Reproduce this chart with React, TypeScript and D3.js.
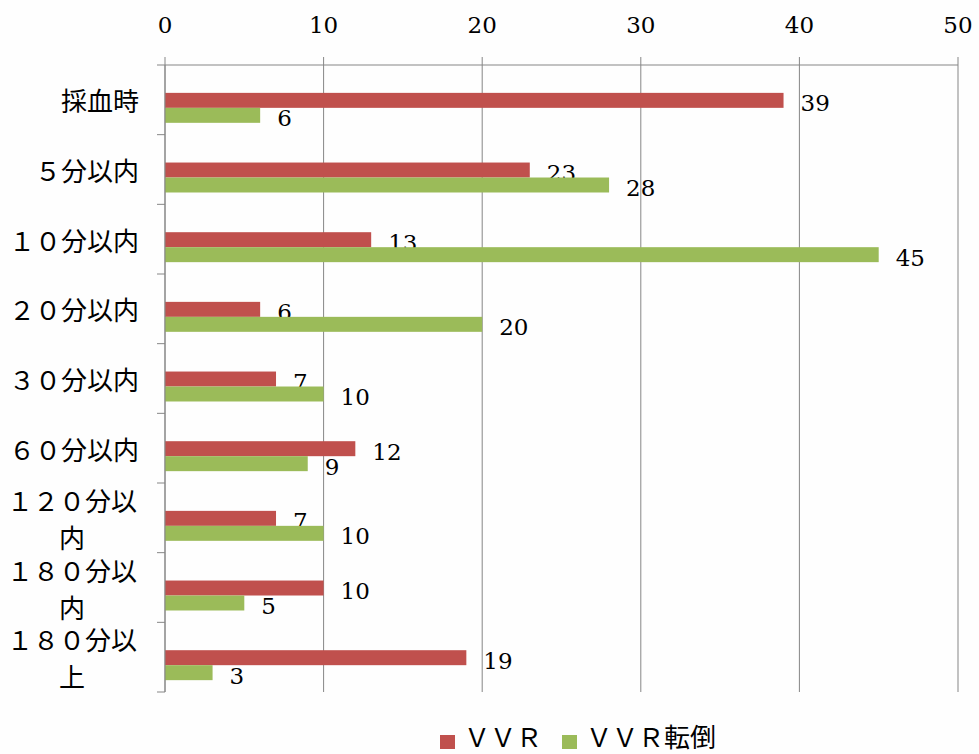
import React from "react";
import * as d3 from "d3";

const categories: string[][] = [
  ["採血時"],
  ["５分以内"],
  ["１０分以内"],
  ["２０分以内"],
  ["３０分以内"],
  ["６０分以内"],
  ["１２０分以", "内"],
  ["１８０分以", "内"],
  ["１８０分以", "上"],
];
const catKeys = categories.map((c) => c.join(""));
const seriesNames = ["ＶＶＲ", "ＶＶＲ転倒"];
const vvr = [39, 23, 13, 6, 7, 12, 7, 10, 19];
const vvrFall = [6, 28, 45, 20, 10, 9, 10, 5, 3];
const xTicks = [0, 10, 20, 30, 40, 50];
const colors = ["#C0504D", "#9BBB59"];

const W = 979;
const H = 754;
const left = 165;
const right = 958;
const top = 65;
const bottom = 692;
const catFont = "'Noto Sans CJK JP', sans-serif";
const numFont = "'DejaVu Serif', serif";
const numSize = 23;
const catSize = 26;

export default function App() {
  const x = d3.scaleLinear().domain([0, 50]).range([left, right]);
  const y = d3.scaleBand<string>().domain(catKeys).range([top, bottom]).padding(0);
  const bw = y.bandwidth();
  const barH = bw * 0.215;
  const offset = bw * 0.4;
  const series = [vvr, vvrFall];
  const gridColor = "#868686";

  return (
    <svg
      width={W}
      height={H}
      style={{ position: "absolute", left: 0, top: 0, background: "#fefefe" }}
    >
      <rect x={0} y={0} width={W} height={H} fill="#fefefe" />
      {xTicks.map((t) => (
        <g key={"t" + t}>
          <line x1={x(t)} x2={x(t)} y1={top - 8} y2={bottom} stroke={gridColor} strokeWidth={1} />
          <text
            x={x(t)}
            y={33}
            textAnchor="middle"
            fontFamily={numFont}
            fontSize={numSize}
            fill="#000"
          >
            {t}
          </text>
        </g>
      ))}
      <line x1={left - 8} x2={right} y1={top} y2={top} stroke={gridColor} strokeWidth={1} />
      {catKeys.map((k, i) => (
        <line
          key={"ct" + i}
          x1={left - 8}
          x2={left}
          y1={(y(k) as number) + bw}
          y2={(y(k) as number) + bw}
          stroke={gridColor}
          strokeWidth={1}
        />
      ))}
      {series.map((vals, s) =>
        vals.map((v, i) => {
          const by = (y(catKeys[i]) as number) + offset + s * barH;
          return (
            <g key={"b" + s + "-" + i}>
              <rect x={x(0)} y={by} width={x(v) - x(0)} height={barH} fill={colors[s]} />
              <text
                x={x(v) + 17}
                y={by + barH + 3.5}
                fontFamily={numFont}
                fontSize={numSize}
                fill="#000"
              >
                {v}
              </text>
            </g>
          );
        })
      )}
      <line x1={left} x2={left} y1={top} y2={bottom} stroke={gridColor} strokeWidth={1} />
      {categories.map((lines, i) => {
        const cy = (y(catKeys[i]) as number) + bw / 2;
        const lh = 37;
        const blockW = Math.max(...lines.map((l) => l.length)) * catSize;
        const cx = 139 - blockW / 2 - 2;
        return (
          <text
            key={"cl" + i}
            fontFamily={catFont}
            fontSize={catSize}
            fill="#000"
            textAnchor={lines.length > 1 ? "middle" : "end"}
          >
            {lines.map((l, j) => (
              <tspan
                key={j}
                x={lines.length > 1 ? cx : 139}
                y={cy + (j - (lines.length - 1) / 2) * lh}
                dominantBaseline="central"
              >
                {l}
              </tspan>
            ))}
          </text>
        );
      })}
      <g>
        <rect x={440} y={735} width={15} height={14} fill={colors[0]} />
        <text x={464} y={747} fontFamily={catFont} fontSize={catSize} fill="#000">
          {seriesNames[0]}
        </text>
        <rect x={562} y={735} width={15} height={14} fill={colors[1]} />
        <text x={586} y={747} fontFamily={catFont} fontSize={catSize} fill="#000">
          {seriesNames[1]}
        </text>
      </g>
    </svg>
  );
}
